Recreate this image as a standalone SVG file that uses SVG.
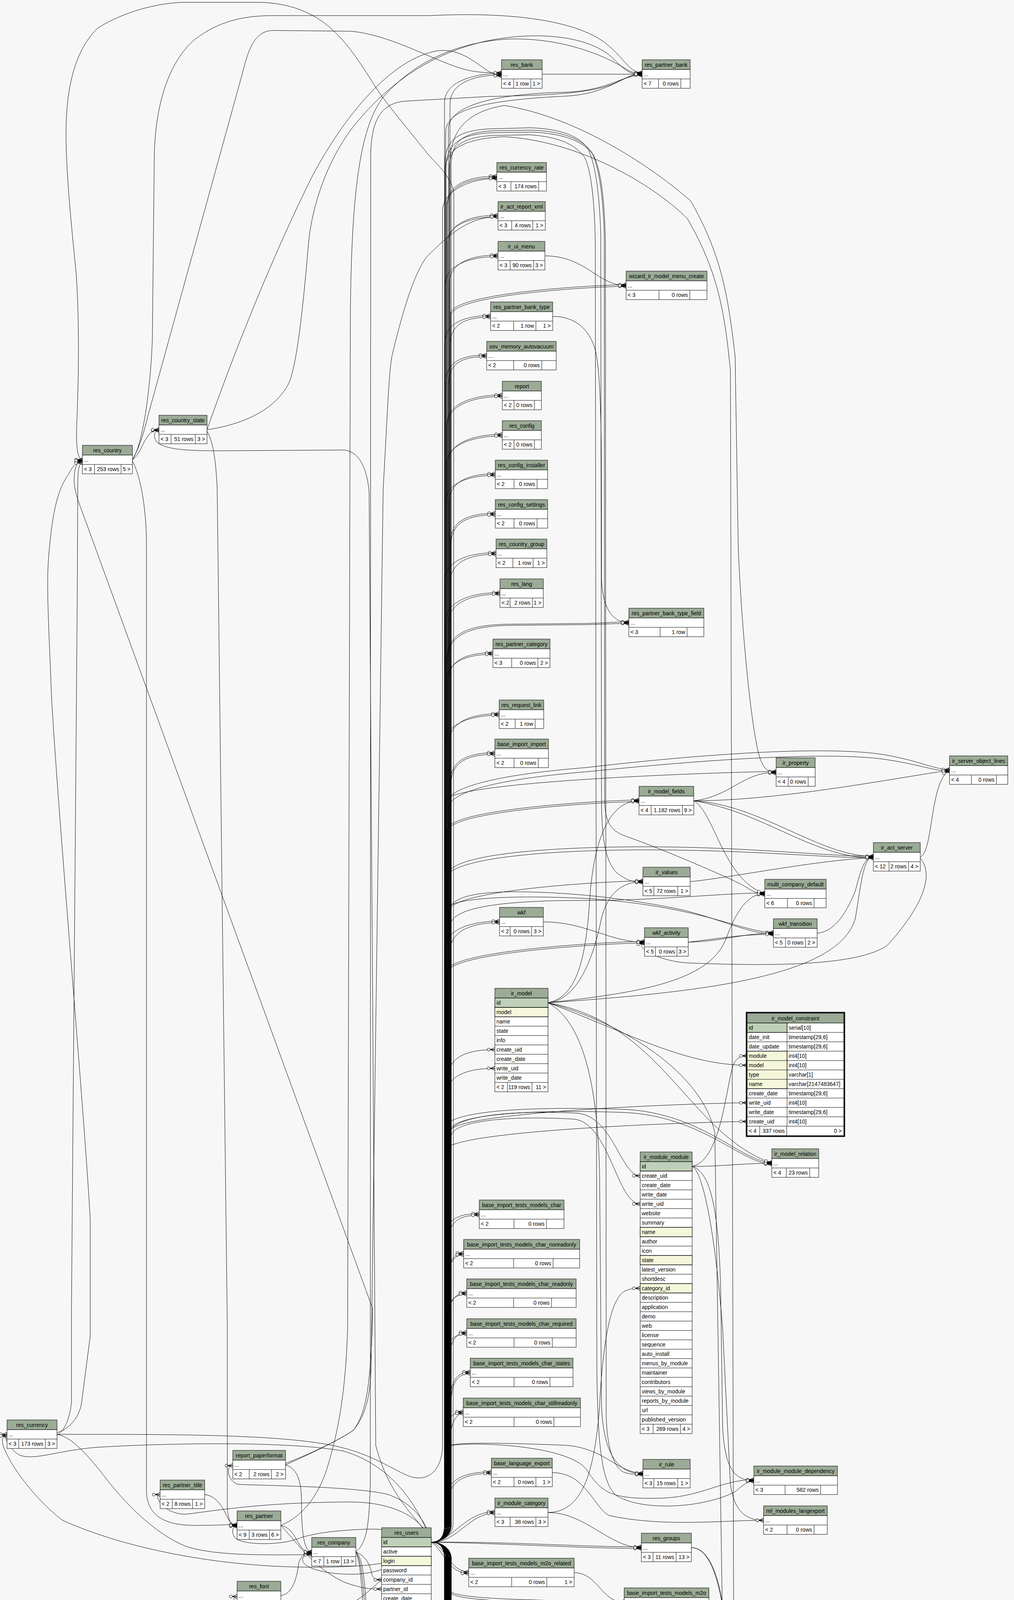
<svg xmlns="http://www.w3.org/2000/svg" width="2596" height="7891" viewBox="0 0 2596 7891">
<defs>
<style>
text{font-family:"Liberation Sans",Arial,Helvetica,sans-serif;font-size:14px;fill:#000}
.h{fill:#9bab96;stroke:#000;stroke-width:1}
.w{fill:#fff;stroke:#000;stroke-width:1}
.k{fill:#bed1b8;stroke:#000;stroke-width:1}
.y{fill:#f4f7da;stroke:#000;stroke-width:1}
.s{fill:none;stroke:#000;stroke-width:1}
.c{text-anchor:middle}
.r{text-anchor:end}
#connectors path{fill:none;stroke:#000;stroke-width:1}
</style>
<marker id="m" markerUnits="userSpaceOnUse" viewBox="-24 -7 25 14" refX="0" refY="0" markerWidth="25" markerHeight="14" orient="auto" overflow="visible">
<path d="M0,-5 L-12,0 L0,5 M-12,0 H0" fill="none" stroke="#000" stroke-width="1.3"/>
<circle cx="-16" cy="0" r="3.8" fill="#fff" stroke="#000" stroke-width="1"/>
</marker>
</defs>
<rect x="0" y="0" width="2596" height="7891" fill="#f7f7f7"/>

<g id="connectors" marker-end="url(#m)">
<path d="M1104 3948C1125 3948 1138 3935 1138 3905L1138 263C1138 208 1214 188 1284 188"/>
<path d="M1104 3948C1125 3948 1152 3935 1152 3905L1152 267C1152 212 1214 192 1284 192"/>
<path d="M1104 3948C1125 3948 1141 3935 1141 3905L1141 340C1141 290 1200 258 1450 246C1560 240 1600 188 1644 188"/>
<path d="M1104 3948C1125 3948 1148 3935 1148 3905L1148 330C1148 275 1250 240 1450 236C1555 232 1595 192 1644 192"/>
<path d="M1104 3948C1125 3948 1144 3935 1144 3905L1144 526C1144 471 1202 451 1272 451"/>
<path d="M1104 3948C1125 3948 1145 3935 1145 3905L1145 530C1145 475 1202 455 1272 455"/>
<path d="M1104 3948C1125 3948 1147 3935 1147 3905L1147 626C1147 571 1205 551 1275 551"/>
<path d="M1104 3948C1125 3948 1142 3935 1142 3905L1142 630C1142 575 1205 555 1275 555"/>
<path d="M1104 3948C1125 3948 1150 3935 1150 3905L1150 728C1150 673 1205 653 1275 653"/>
<path d="M1104 3948C1125 3948 1139 3935 1139 3905L1139 732C1139 677 1205 657 1275 657"/>
<path d="M1104 3948C1125 3948 1153 3935 1153 3905L1153 804C1153 749 1533 729 1603 729"/>
<path d="M1104 3948C1125 3948 1155 3935 1155 3905L1155 808C1155 753 1533 733 1603 733"/>
<path d="M1104 3948C1125 3948 1138 3935 1138 3905L1138 883C1138 828 1186 808 1256 808"/>
<path d="M1104 3948C1125 3948 1152 3935 1152 3905L1152 887C1152 832 1186 812 1256 812"/>
<path d="M1104 3948C1125 3948 1141 3935 1141 3905L1141 984C1141 929 1176 909 1246 909"/>
<path d="M1104 3948C1125 3948 1148 3935 1148 3905L1148 988C1148 933 1176 913 1246 913"/>
<path d="M1104 3948C1125 3948 1144 3935 1144 3905L1144 1086C1144 1031 1216 1011 1286 1011"/>
<path d="M1104 3948C1125 3948 1145 3935 1145 3905L1145 1090C1145 1035 1216 1015 1286 1015"/>
<path d="M1104 3948C1125 3948 1147 3935 1147 3905L1147 1187C1147 1132 1216 1112 1286 1112"/>
<path d="M1104 3948C1125 3948 1142 3935 1142 3905L1142 1191C1142 1136 1216 1116 1286 1116"/>
<path d="M1104 3948C1125 3948 1150 3935 1150 3905L1150 1288C1150 1233 1198 1213 1268 1213"/>
<path d="M1104 3948C1125 3948 1139 3935 1139 3905L1139 1292C1139 1237 1198 1217 1268 1217"/>
<path d="M1104 3948C1125 3948 1153 3935 1153 3905L1153 1389C1153 1334 1198 1314 1268 1314"/>
<path d="M1104 3948C1125 3948 1155 3935 1155 3905L1155 1393C1155 1338 1198 1318 1268 1318"/>
<path d="M1104 3948C1125 3948 1138 3935 1138 3905L1138 1490C1138 1435 1200 1415 1270 1415"/>
<path d="M1104 3948C1125 3948 1152 3935 1152 3905L1152 1494C1152 1439 1200 1419 1270 1419"/>
<path d="M1104 3948C1125 3948 1141 3935 1141 3905L1141 1592C1141 1537 1210 1517 1280 1517"/>
<path d="M1104 3948C1125 3948 1148 3935 1148 3905L1148 1596C1148 1541 1210 1521 1280 1521"/>
<path d="M1104 3948C1125 3948 1144 3935 1144 3905L1144 1690C1144 1620 1200 1600 1300 1598L1500 1596C1550 1595 1575 1592 1610 1592"/>
<path d="M1104 3948C1125 3948 1145 3935 1145 3905L1145 1694C1145 1625 1200 1604 1300 1601L1500 1599C1550 1598 1575 1596 1610 1596"/>
<path d="M1104 3948C1125 3948 1147 3935 1147 3905L1147 1746C1147 1691 1192 1671 1262 1671"/>
<path d="M1104 3948C1125 3948 1142 3935 1142 3905L1142 1750C1142 1695 1192 1675 1262 1675"/>
<path d="M1104 3948C1125 3948 1150 3935 1150 3905L1150 1902C1150 1847 1208 1827 1278 1827"/>
<path d="M1104 3948C1125 3948 1139 3935 1139 3905L1139 1906C1139 1851 1208 1831 1278 1831"/>
<path d="M1104 3948C1125 3948 1153 3935 1153 3905L1153 2002C1153 1947 1197 1927 1267 1927"/>
<path d="M1104 3948C1125 3948 1155 3935 1155 3905L1155 2006C1155 1951 1197 1931 1267 1931"/>
<path d="M1104 3948C1125 3948 1138 3935 1138 3905L1138 2052C1138 1997 1917 1975 1987 1975"/>
<path d="M1104 3948C1125 3948 1152 3935 1152 3905L1152 420C1152 330 1200 285 1291 270C1482 300 1673 431 1768 514C1844 647 1863 746 1882 912L1890 1400C1896 1555 1916 1810 1940 1920C1950 1965 1965 1979 1987 1979"/>
<path d="M1104 3948C1125 3948 1141 3935 1141 3905L1141 2060C1141 2020 1250 1985 1500 1965C1800 1930 2100 1910 2250 1930C2350 1945 2390 1970 2431 1970"/>
<path d="M1104 3948C1125 3948 1148 3935 1148 3905L1148 2070C1148 2030 1260 1995 1510 1975C1800 1945 2100 1925 2250 1942C2350 1955 2390 1974 2431 1974"/>
<path d="M1104 3948C1125 3948 1144 3935 1144 3905L1144 2125C1144 2070 1566 2048 1636 2048"/>
<path d="M1104 3948C1125 3948 1145 3935 1145 3905L1145 2129C1145 2074 1566 2052 1636 2052"/>
<path d="M1104 3948C1125 3948 1147 3935 1147 3905L1147 2240C1147 2200 1300 2172 1600 2168C1900 2165 2100 2192 2236 2192"/>
<path d="M1104 3948C1125 3948 1142 3935 1142 3905L1142 2250C1142 2210 1300 2180 1600 2176C1900 2173 2100 2196 2236 2196"/>
<path d="M1104 3948C1125 3948 1150 3935 1150 3905L1150 2332C1150 2277 1576 2255 1646 2255"/>
<path d="M1104 3948C1125 3948 1139 3935 1139 3905L1139 420C1139 360 1170 335 1250 330L1358 327C1430 330 1480 345 1505 380C1525 420 1535 500 1538 600L1540 2064C1542 2150 1550 2207 1580 2235C1605 2255 1625 2259 1646 2259"/>
<path d="M1104 3948C1125 3948 1153 3935 1153 3905L1153 2370C1153 2320 1300 2305 1500 2305C1700 2305 1850 2286 1958 2286"/>
<path d="M1104 3948C1125 3948 1155 3935 1155 3905L1155 425C1155 365 1180 340 1260 335L1360 333C1440 336 1490 355 1515 390C1535 430 1545 510 1547 610L1548 2054C1550 2100 1560 2125 1600 2140C1700 2175 1850 2240 1900 2265C1925 2280 1940 2290 1958 2290"/>
<path d="M1104 3948C1125 3948 1138 3935 1138 3905L1138 2433C1138 2378 1209 2358 1279 2358"/>
<path d="M1104 3948C1125 3948 1152 3935 1152 3905L1152 2437C1152 2382 1209 2362 1279 2362"/>
<path d="M1104 3948C1125 3948 1141 3935 1141 3905L1141 2330C1141 2300 1300 2290 1500 2300C1800 2320 1900 2387 1980 2387"/>
<path d="M1104 3948C1125 3948 1148 3935 1148 3905L1148 2340C1148 2300 1200 2285 1305 2283C1450 2282 1611 2300 1750 2330C1850 2355 1920 2391 1980 2391"/>
<path d="M1104 3948C1125 3948 1144 3935 1144 3905L1144 2487C1144 2432 1580 2410 1650 2410"/>
<path d="M1104 3948C1125 3948 1145 3935 1145 3905L1145 2491C1145 2436 1580 2414 1650 2414"/>
<path d="M1104 3948C1125 3948 1147 3935 1147 3905L1147 2760C1147 2705 1197 2687 1267 2687"/>
<path d="M1104 3948C1125 3948 1142 3935 1142 3905L1142 2808C1142 2753 1197 2735 1267 2735"/>
<path d="M1104 3948C1125 3948 1150 3935 1150 3905L1150 2898C1150 2843 1843 2823 1913 2823"/>
<path d="M1104 3948C1125 3948 1139 3935 1139 3905L1139 2946C1139 2891 1843 2871 1913 2871"/>
<path d="M1104 3948C1125 3948 1153 3935 1153 3905L1153 2900C1153 2860 1300 2840 1480 2850C1570 2860 1590 3010 1639 3010"/>
<path d="M1104 3948C1125 3948 1155 3935 1155 3905L1155 2910C1155 2870 1300 2855 1470 2865C1560 2875 1580 3082 1639 3082"/>
<path d="M1104 3948C1125 3948 1138 3935 1138 3905L1138 2890C1138 2850 1300 2830 1600 2840C1800 2850 1900 2976 1976 2976"/>
<path d="M1104 3948C1125 3948 1152 3935 1152 3905L1152 2895C1152 2858 1320 2838 1600 2848C1800 2858 1900 2980 1976 2980"/>
<path d="M1104 3948C1125 3948 1141 3935 1141 3905L1141 3182C1141 3127 1161 3107 1227 3107"/>
<path d="M1104 3948C1125 3948 1148 3935 1148 3905L1148 3186C1148 3131 1168 3111 1227 3111"/>
<path d="M1104 3948C1125 3948 1144 3935 1144 3905L1144 3283C1144 3228 1164 3208 1187 3208"/>
<path d="M1104 3948C1125 3948 1145 3935 1145 3905L1145 3287C1145 3232 1165 3212 1187 3212"/>
<path d="M1104 3948C1125 3948 1147 3935 1147 3905L1147 3384C1147 3329 1167 3309 1195 3309"/>
<path d="M1104 3948C1125 3948 1142 3935 1142 3905L1142 3388C1142 3333 1162 3313 1195 3313"/>
<path d="M1104 3948C1125 3948 1150 3935 1150 3905L1150 3486C1150 3431 1170 3411 1195 3411"/>
<path d="M1104 3948C1125 3948 1139 3935 1139 3905L1139 3490C1139 3435 1159 3415 1195 3415"/>
<path d="M1104 3948C1125 3948 1153 3935 1153 3905L1153 3587C1153 3532 1173 3512 1204 3512"/>
<path d="M1104 3948C1125 3948 1155 3935 1155 3905L1155 3591C1155 3536 1175 3516 1204 3516"/>
<path d="M1104 3948C1125 3948 1138 3935 1138 3905L1138 3689C1138 3634 1158 3614 1186 3614"/>
<path d="M1104 3948C1125 3948 1152 3935 1152 3905L1152 3693C1152 3638 1172 3618 1186 3618"/>
<path d="M1104 3948C1125 3948 1141 3935 1141 3905L1141 3843C1141 3788 1188 3768 1258 3768"/>
<path d="M1104 3948C1125 3948 1148 3935 1148 3905L1148 3847C1148 3792 1188 3772 1258 3772"/>
<path d="M1104 3948C1125 3948 1144 3935 1144 3905L1144 3705C1144 3692 1250 3692 1450 3700C1550 3708 1580 3771 1646 3771"/>
<path d="M1104 3948C1125 3948 1142 3935 1142 3905L1142 430C1142 370 1175 345 1255 340L1362 338C1445 342 1495 362 1520 398C1540 440 1548 520 1550 620L1552 3620C1553 3700 1570 3760 1600 3770C1620 3775 1630 3775 1646 3775"/>
<path d="M1104 3948C1125 3948 1145 3935 1145 3905L1145 3705C1145 3690 1440 3690 1500 3760C1540 3820 1560 3840 1700 3835C1800 3830 1850 3788 1930 3788"/>
<path d="M1104 3948C1125 3948 1150 3935 1150 3905L1150 435C1150 375 1180 352 1260 347L1355 345C1430 350 1475 370 1498 405C1515 445 1522 520 1524 620L1528 3500C1530 3700 1540 3800 1580 3830C1650 3870 1800 3860 1880 3820C1900 3805 1910 3792 1930 3792"/>
<path d="M1104 3948C1160 3945 1190 3870 1267 3870"/>
<path d="M1104 3948C1170 3950 1200 3874 1267 3874"/>
<path d="M1104 3948C1300 3946 1480 3960 1642 3960"/>
<path d="M1104 3948C1320 3952 1500 3964 1642 3964"/>
<path d="M1104 3948C1140 3955 1150 4024 1200 4024"/>
<path d="M1104 3948C1135 3965 1145 4028 1200 4028"/>
<path d="M1104 3948C1125 3948 1150 3960 1150 3990L1150 4070C1150 4090 1300 4096 1500 4098C1550 4099 1570 4100 1598 4100"/>
<path d="M1104 3948C1125 3948 1153 3960 1153 3990L1153 4075C1153 4095 1300 4102 1500 4103C1550 4104 1570 4104 1598 4104"/>
<path d="M1104 3948C1125 3948 1138 3960 1138 3990L1138 4104C1138 4159 1158 4179 1216 4179"/>
<path d="M1104 3948C1125 3948 1152 3960 1152 3990L1152 4108C1152 4163 1172 4183 1216 4183"/>
<path d="M1104 3948C1125 3948 1141 3960 1141 3990L1141 4206C1141 4261 1188 4281 1258 4281"/>
<path d="M1104 3948C1125 3948 1148 3960 1148 3990L1148 4210C1148 4265 1188 4285 1258 4285"/>
<path d="M1104 3948C1125 3948 1144 3960 1144 3990L1144 4307C1144 4362 1189 4382 1259 4382"/>
<path d="M1104 3948C1125 3948 1145 3960 1145 3990L1145 4311C1145 4366 1189 4386 1259 4386"/>
<path d="M1104 3948C1125 3948 1147 3960 1147 3990L1147 4408C1147 4463 1172 4483 1242 4483"/>
<path d="M1104 3948C1125 3948 1142 3960 1142 3990L1142 4412C1142 4467 1172 4487 1242 4487"/>
<path d="M1104 3948C1125 3948 1150 3960 1150 3990L1150 4510C1150 4565 1192 4585 1262 4585"/>
<path d="M1104 3948C1125 3948 1139 3960 1139 3990L1139 4514C1139 4569 1192 4589 1262 4589"/>
<path d="M1104 3948C1125 3948 1153 3960 1153 3990L1153 4611C1153 4666 1187 4686 1257 4686"/>
<path d="M1104 3948C1125 3948 1155 3960 1155 3990L1155 4615C1155 4670 1187 4690 1257 4690"/>
<path d="M1104 3948C1125 3948 1138 3960 1138 3990L1138 4712C1138 4767 1178 4787 1248 4787"/>
<path d="M1104 3948C1125 3948 1152 3960 1152 3990L1152 4716C1152 4771 1178 4791 1248 4791"/>
<path d="M1104 3948C1125 3948 1141 3960 1141 3990L1141 4813C1141 4868 1218 4888 1288 4888"/>
<path d="M1104 3948C1125 3948 1148 3960 1148 3990L1148 4817C1148 4872 1218 4892 1288 4892"/>
<path d="M1104 3948C1125 3948 1144 3960 1144 3990L1144 4915C1144 4970 1159 4990 1170 4990"/>
<path d="M1104 3948C1125 3948 1145 3960 1145 3990L1145 4919C1145 4974 1160 4994 1170 4994"/>
<path d="M1104 3948C1125 3948 1147 3960 1147 3990L1147 4880C1147 4925 1450 4935 1700 4940C1850 4943 1900 4988 1978 4988"/>
<path d="M1104 3948C1125 3948 1139 3935 1139 3905L1139 440C1139 380 1190 355 1290 350C1480 360 1670 470 1760 560C1835 690 1855 790 1870 950L1880 4850C1885 4940 1920 4992 1978 4992"/>
<path d="M1104 3948C1125 3948 1150 3960 1150 3990L1150 5020C1150 5055 1250 5066 1567 5066"/>
<path d="M1104 3948C1125 3948 1153 3960 1153 3990L1153 5024C1153 5059 1260 5070 1567 5070"/>
<path d="M1104 3948C1125 3948 1138 3960 1138 3990L1138 5069C1138 5124 1158 5144 1227 5144"/>
<path d="M1104 3948C1125 3948 1152 3960 1152 3990L1152 5073C1152 5128 1172 5148 1227 5148"/>
<path d="M1104 3948C1125 3948 1141 3960 1141 3990L1141 5180C1141 5212 1250 5221 1579 5221"/>
<path d="M1104 3948C1125 3948 1148 3960 1148 3990L1148 5184C1148 5216 1260 5225 1579 5225"/>
<path d="M1104 3948C1125 3948 1144 3960 1144 3990L1144 5224C1144 5279 1177 5299 1247 5299"/>
<path d="M1104 3948C1125 3948 1145 3960 1145 3990L1145 5228C1145 5283 1177 5303 1247 5303"/>
<path d="M1104 3948C1125 3948 1147 3960 1147 3990L1147 5325C1147 5380 1202 5400 1272 5400"/>
<path d="M1104 3948C1125 3948 1142 3960 1142 3990L1142 5329C1142 5384 1202 5404 1272 5404"/>
<path d="M1104 3948C1125 3948 1155 3960 1155 3990L1155 5335C1155 5390 1202 5406 1272 5406"/>
<path d="M1104 3948C1125 3948 1150 3960 1150 3990L1150 5427C1150 5482 1216 5502 1286 5502"/>
<path d="M1104 3948C1125 3948 1139 3960 1139 3990L1139 5431C1139 5486 1216 5506 1286 5506"/>
<path d="M1104 3948C1125 3948 1153 3960 1153 3990L1153 5528C1153 5583 1216 5603 1286 5603"/>
<path d="M1104 3948C1125 3948 1155 3960 1155 3990L1155 5532C1155 5587 1216 5607 1286 5607"/>
<path d="M1104 3948C1125 3948 1138 3960 1138 3990L1138 5600C1138 5650 1250 5670 1624 5670"/>
<path d="M1104 3948C1125 3948 1152 3960 1152 3990L1152 5605C1152 5655 1260 5674 1624 5674"/>
<path d="M1104 3948C1125 3948 1146 3960 1146 3990L1146 5610C1146 5660 1270 5676 1624 5676"/>
<path d="M1104 3948C1125 3948 1141 3960 1141 3990L1141 5700C1141 5750 1250 5771 1643 5771"/>
<path d="M1104 3948C1125 3948 1148 3960 1148 3990L1148 5705C1148 5755 1260 5775 1643 5775"/>
<path d="M1104 3948C1125 3948 1143 3960 1143 3990L1143 5712C1143 5760 1270 5777 1643 5777"/>
<path d="M1104 3948C1125 3948 1144 3960 1144 3990L1144 5767C1144 5822 1208 5842 1278 5842"/>
<path d="M1104 3948C1125 3948 1145 3960 1145 3990L1145 5771C1145 5826 1208 5846 1278 5846"/>
<path d="M1104 3948C1125 3948 1147 3960 1147 3990L1147 5845C1147 5895 1260 5910 1600 5910"/>
<path d="M1104 3948C1125 3948 1142 3960 1142 3990L1142 5850C1142 5900 1270 5914 1600 5914"/>
<path d="M1104 3948C1125 3948 1151 3960 1151 3990L1151 5855C1151 5903 1280 5916 1600 5916"/>
<path d="M1104 3948C1125 3948 1150 3960 1150 3990L1150 6380C1150 6440 1300 6455 1489 6429C1611 6400 1760 6200 1820 6050C1850 5950 1860 5850 1880 5800C1900 5772 1930 5767 1962 5767"/>
<path d="M1104 3948C1125 3948 1150 3960 1150 3990L1150 5989C1150 6044 1212 6064 1282 6064"/>
<path d="M1104 3948C1125 3948 1139 3960 1139 3990L1139 5993C1139 6048 1212 6068 1282 6068"/>
<path d="M1104 3948C1125 3948 1153 3960 1153 3990L1153 6091C1153 6146 1212 6166 1282 6166"/>
<path d="M1104 3948C1125 3948 1155 3960 1155 3990L1155 6095C1155 6150 1212 6170 1282 6170"/>
<path d="M1104 3948C1125 3948 1138 3960 1138 3990L1138 6192C1138 6247 1196 6267 1266 6267"/>
<path d="M1104 3948C1125 3948 1152 3960 1152 3990L1152 6196C1152 6251 1196 6271 1266 6271"/>
<path d="M1104 3948C1125 3948 1141 3960 1141 3990L1141 6293C1141 6348 1218 6368 1288 6368"/>
<path d="M1104 3948C1125 3948 1148 3960 1148 3990L1148 6297C1148 6352 1218 6372 1288 6372"/>
<path d="M1104 3948C1125 3948 1144 3960 1144 3990L1144 6300C1144 6356 1218 6374 1288 6374"/>
<path d="M1104 3948C1125 3948 1144 3960 1144 3990L1144 6484C1144 6539 1202 6559 1272 6559"/>
<path d="M1104 3948C1125 3948 1145 3960 1145 3990L1145 6488C1145 6543 1202 6563 1272 6563"/>
<path d="M1104 3948C1125 3948 1147 3960 1147 3990L1147 6585C1147 6640 1216 6660 1286 6660"/>
<path d="M1104 3948C1125 3948 1142 3960 1142 3990L1142 6589C1142 6644 1216 6664 1286 6664"/>
<path d="M1104 3948C1125 3948 1152 3960 1152 3990L1152 6593C1152 6648 1216 6666 1286 6666"/>
<path d="M1104 3948C1125 3948 1150 3960 1150 3990L1150 6689C1150 6744 1216 6764 1286 6764"/>
<path d="M1104 3948C1125 3948 1153 3960 1153 3990L1153 6787C1153 6842 1216 6862 1286 6862"/>
<path d="M1104 3948C1125 3948 1155 3960 1155 3990L1155 6791C1155 6846 1216 6866 1286 6866"/>
<path d="M1104 3948C1125 3948 1138 3960 1138 3990L1138 6889C1138 6944 1204 6964 1274 6964"/>
<path d="M1104 3948C1125 3948 1152 3960 1152 3990L1152 6893C1152 6948 1204 6968 1274 6968"/>
<path d="M1104 3948C1125 3948 1141 3960 1141 3990L1141 6990C1141 7045 1196 7065 1266 7065"/>
<path d="M1104 3948C1125 3948 1148 3960 1148 3990L1148 6994C1148 7049 1196 7069 1266 7069"/>
<path d="M1104 3948C1125 3948 1144 3960 1144 3990L1144 7080C1144 7125 1300 7142 1642 7142"/>
<path d="M1104 3948C1125 3948 1145 3960 1145 3990L1145 7085C1145 7130 1310 7146 1642 7146"/>
<path d="M1104 3948C1125 3948 1147 3960 1147 3990L1147 6420C1147 6470 1300 6480 1420 6485C1560 6520 1650 6700 1760 6900C1850 7060 1900 7142 1976 7142"/>
<path d="M1104 3948C1125 3948 1142 3960 1142 3990L1142 6425C1142 6476 1300 6488 1416 6493C1552 6528 1642 6708 1752 6908C1842 7068 1895 7146 1976 7146"/>
<path d="M1104 3948C1125 3948 1150 3960 1150 3990L1150 7145C1150 7200 1209 7220 1279 7220"/>
<path d="M1104 3948C1125 3948 1139 3960 1139 3990L1139 7149C1139 7204 1209 7224 1279 7224"/>
<path d="M1104 3948C1125 3948 1153 3960 1153 3990L1153 7220C1153 7262 1300 7273 1656 7273"/>
<path d="M1104 3948C1125 3948 1155 3960 1155 3990L1155 7224C1155 7266 1310 7277 1656 7277"/>
<path d="M1104 3948C1125 3948 1138 3960 1138 3990L1138 7290C1138 7330 1400 7340 1700 7330C2000 7320 2100 7288 2227 7288"/>
<path d="M1104 3948C1125 3948 1152 3960 1152 3990L1152 7295C1152 7337 1410 7347 1700 7337C2000 7327 2100 7292 2227 7292"/>
<path d="M1104 3948C1125 3948 1141 3960 1141 3990L1141 7380C1141 7420 1400 7430 1700 7425C1850 7420 1900 7408 1972 7408"/>
<path d="M1104 3948C1125 3948 1148 3960 1148 3990L1148 7385C1148 7428 1410 7437 1700 7432C1850 7427 1900 7412 1972 7412"/>
<path d="M1104 3948C1125 3948 1144 3960 1144 3990L1144 7420C1144 7475 1216 7495 1286 7495"/>
<path d="M1104 3948C1125 3948 1145 3960 1145 3990L1145 7424C1145 7479 1216 7499 1286 7499"/>
<path d="M1104 3948C1125 3948 1150 3960 1150 3990L1150 7430C1150 7482 1216 7500 1286 7500"/>
<path d="M1104 3948C1125 3948 1147 3960 1147 3990L1147 7521C1147 7576 1216 7596 1286 7596"/>
<path d="M1104 3948C1125 3948 1142 3960 1142 3990L1142 7525C1142 7580 1216 7600 1286 7600"/>
<path d="M1104 3948C1125 3948 1153 3960 1153 3990L1153 7623C1153 7678 1216 7698 1286 7698"/>
<path d="M1104 3948C1125 3948 1139 3960 1139 3990L1139 7627C1139 7682 1216 7702 1286 7702"/>
<path d="M1104 3948C1125 3948 1155 3960 1155 3990L1155 7725C1155 7780 1184 7800 1254 7800"/>
<path d="M1104 3948C1070 3850 1000 3750 880 3715C750 3690 450 3693 250 3705C150 3712 90 3740 50 3725C25 3712 5 3672 18 3672"/>
<path d="M1104 3948C1050 4000 960 4012 800 4012C560 4012 320 3964 160 3892C80 3830 20 3740 8 3700C4 3685 6 3676 18 3676"/>
<path d="M1104 3948C1090 3880 1040 3840 990 3825C900 3805 700 3804 610 3800C585 3795 575 3752 596 3752"/>
<path d="M1104 3948C1080 3880 1000 3846 900 3845C700 3846 600 3860 480 3876C420 3880 390 3826 410 3826"/>
<path d="M1104 3948C1070 3925 1000 3912 930 3915C860 3918 800 3925 760 3940C720 3955 620 3958 600 3935C592 3920 595 3907 607 3907"/>
<path d="M1104 3948C1060 3975 1000 4030 900 4030C820 4030 770 4010 775 3990C778 3980 785 3977 798 3977"/>
<path d="M1104 3948C1000 4000 960 4080 880 4115C800 4140 660 4150 610 4125C595 4110 595 4087 607 4087"/>
<path d="M1104 3948C1090 3900 1000 3850 962 3700L945 1260C940 1200 920 1155 880 1152L560 1154C470 1154 420 1150 400 1130C392 1115 395 1102 407 1102"/>
<path d="M1104 3948C1125 3948 1160 3935 1160 3900L1162 500C1162 470 1140 440 1100 400C1060 350 1010 290 972 239C940 190 900 120 850 75C800 30 740 8 666 6L465 6C380 10 300 40 250 72C200 120 175 200 170 300C165 400 180 550 195 700C205 850 200 1000 196 1100C195 1150 200 1177 211 1177"/>
<path d="M146 3668C185 3655 205 3620 209 3590L231 3420L231 3125C220 2900 150 2100 132 1786C125 1600 118 1500 125 1420C135 1300 150 1250 175 1215C185 1195 195 1181 211 1181"/>
<path d="M146 3674C170 3660 180 3620 183 3590L183 3350L198 1500L199 1250C199 1215 200 1185 211 1185"/>
<path d="M731 3746C800 3720 880 3680 905 3661C935 3620 950 3560 954 3350L213 1317C205 1295 192 1265 190 1235C189 1205 195 1179 211 1179"/>
<path d="M146 3672C400 3672 700 3670 850 3700C950 3720 1000 3760 1050 3780C1100 3795 1132 3760 1133 3700L1133 540C1133 490 1200 457 1272 457"/>
<path d="M146 3672C180 3677 220 3720 260 3770C320 3850 400 3930 480 3960C560 3985 700 3980 798 3980"/>
<path d="M339 1180C360 1220 375 1300 375 1400L375 3820C378 3880 420 3905 500 3905C550 3905 580 3903 607 3903"/>
<path d="M530 1104C545 1130 552 1170 556 1250L582 3400L582 3860C584 3890 590 3905 607 3905"/>
<path d="M339 1177C365 1160 370 1100 407 1100"/>
<path d="M339 1177C365 1140 385 1000 390 870L395 400C398 250 440 150 500 100C560 55 620 40 700 40L1100 40C1300 30 1470 50 1550 110C1600 150 1610 186 1644 186"/>
<path d="M339 1177C360 1140 370 1100 380 1060L620 190C635 130 650 78 700 78L900 80C1000 90 1100 150 1180 175C1220 187 1250 186 1284 186"/>
<path d="M530 1100C600 1090 700 1060 740 980C760 930 775 800 790 620C800 520 840 410 900 330C970 240 1080 140 1250 104C1400 75 1520 100 1570 150C1600 180 1615 192 1644 192"/>
<path d="M530 1100C600 900 700 650 800 450C880 300 1000 150 1120 130C1200 120 1240 194 1284 194"/>
<path d="M731 3750C800 3720 880 3680 905 3661C930 3630 948 3589 950 3500L981 1250C990 1100 995 950 1004 909C1030 800 1060 700 1092 658C1150 600 1200 555 1275 555"/>
<path d="M719 3905C780 3880 820 3820 840 3750C870 3650 885 3550 890 3400L897 800C900 500 920 330 980 250C1050 170 1150 110 1300 100C1450 95 1560 150 1600 175C1620 188 1630 188 1644 188"/>
<path d="M911 3973C940 3950 945 3900 948 3800L949 400C950 300 980 265 1036 259L1250 247C1400 244 1520 240 1580 210C1610 195 1625 190 1644 190"/>
<path d="M731 3750C765 3760 772 3800 772 3850C772 3930 780 3973 798 3973"/>
<path d="M719 4085C750 4080 760 4040 765 4000C770 3985 780 3975 798 3975"/>
<path d="M524 3826C560 3830 575 3870 585 3890C592 3900 597 3905 607 3905"/>
<path d="M719 3905C750 3910 760 3950 775 3965C785 3973 790 3973 798 3973"/>
<path d="M911 3973C940 3985 948 4010 952 4030C956 4044 965 4044 977 4044"/>
<path d="M719 3905C770 3960 800 4010 880 4050C930 4068 950 4068 977 4068"/>
<path d="M911 3973C935 3990 945 4100 948 4600L990 7200C1000 7380 1060 7480 1130 7550C1180 7585 1230 7598 1286 7598"/>
<path d="M911 3973C930 4000 940 4100 945 4600L960 7400C970 7500 1050 7620 1152 7660C1200 7690 1240 7700 1286 7700"/>
<path d="M911 3973C925 4000 935 4100 940 4600L950 7450C955 7600 1050 7700 1150 7760C1200 7790 1225 7802 1254 7802"/>
<path d="M1388 190L1644 190"/>
<path d="M1395 655C1500 655 1530 731 1603 731"/>
<path d="M1415 810C1470 810 1510 840 1525 900C1538 960 1540 1100 1540 1300L1540 1480C1542 1560 1570 1594 1610 1594"/>
<path d="M1403 2567C1480 2550 1500 2450 1510 2300C1520 2150 1560 2050 1636 2050"/>
<path d="M1403 2567C1800 2540 2150 2500 2190 2350C2205 2260 2210 2194 2236 2194"/>
<path d="M1403 2567C1650 2540 1820 2510 1860 2400C1890 2320 1920 2288 1958 2288"/>
<path d="M1403 2567C1600 2640 1750 2727 1913 2727"/>
<path d="M1403 2567C1700 2620 1760 2900 1976 2978"/>
<path d="M1403 2567C1500 2620 1530 2800 1535 3000L1540 3600C1545 3720 1580 3773 1646 3773"/>
<path d="M1403 2567C1600 2620 1800 2750 1830 2900L1860 4800C1870 4950 1920 4990 1978 4990"/>
<path d="M1403 2567C1480 2560 1520 2450 1540 2350C1555 2290 1590 2257 1646 2257"/>
<path d="M1776 2050C1870 2040 1900 1977 1987 1977"/>
<path d="M1776 2050C2000 2050 2300 1990 2431 1972"/>
<path d="M1776 2050C1950 2060 2100 2194 2236 2192"/>
<path d="M1776 2050C1960 2080 2080 2196 2236 2196"/>
<path d="M1776 2050C1830 2080 1850 2250 1958 2288"/>
<path d="M2356 2194C2390 2180 2380 2000 2431 1972"/>
<path d="M2356 2197C2385 2230 2380 2300 2272 2420C2200 2470 2000 2475 1760 2465C1680 2460 1620 2420 1650 2414"/>
<path d="M1767 2257C1865 2248 2100 2200 2236 2196"/>
<path d="M1391 2360C1500 2360 1560 2412 1650 2412"/>
<path d="M1762 2412C1850 2410 1900 2389 1980 2389"/>
<path d="M1762 2412C1860 2400 1900 2392 1980 2392"/>
<path d="M2092 2389C2140 2385 2170 2330 2190 2280C2205 2220 2215 2194 2236 2194"/>
<path d="M1772 2986C1850 2970 1860 2760 1880 2720C1890 2705 1900 2703 1913 2703"/>
<path d="M1772 2986C1850 2986 1900 2978 1976 2978"/>
<path d="M1772 2986C1820 3000 1840 3100 1845 3300L1850 3650C1855 3760 1880 3790 1930 3790"/>
<path d="M1772 2986C1800 3000 1830 3150 1850 3400L1870 3800C1880 3870 1910 3892 1955 3892"/>
<path d="M1403 3872C1480 3870 1520 3800 1535 3600C1545 3400 1570 3320 1600 3305C1615 3298 1625 3298 1639 3298"/>
<path d="M1403 3872C1500 3872 1560 3962 1642 3962"/>
<path d="M1414 3770C1500 3770 1520 3860 1560 3880C1700 3910 1850 3892 1955 3892"/>
<path d="M1470 4026C1530 4026 1540 4102 1598 4102"/>
<path d="M1500 4992C1530 4992 1535 5068 1567 5068"/>
<path d="M1444 5146C1510 5146 1520 5223 1579 5223"/>
<path d="M1425 5301C1500 5301 1530 5400 1530 5500C1530 5620 1560 5672 1624 5672"/>
<path d="M1394 5844C1500 5844 1560 5773 1643 5773"/>
<path d="M1394 5844C1480 5844 1520 5912 1600 5912"/>
<path d="M1406 7067C1500 7067 1550 7144 1642 7144"/>
<path d="M1770 7144C1850 7135 1900 7140 1976 7142"/>
<path d="M1770 7144C1850 7155 1900 7148 1976 7146"/>
<path d="M1770 7144C1900 7170 2000 7270 2227 7290"/>
<path d="M1770 7144C1830 7170 1860 7300 1880 7360C1900 7400 1930 7410 1972 7410"/>
<path d="M2096 7144C2150 7150 2160 7270 2227 7290"/>
<path d="M1391 7222C1500 7222 1560 7275 1656 7275"/>
<path d="M1770 3962C1830 3962 1860 4100 1865 4300L1870 5600C1875 5720 1910 5765 1962 5765"/>
<path d="M1770 3962C1820 3962 1850 4050 1860 4200L1870 4800C1880 4920 1920 4990 1978 4990"/>
</g>

<g id="res_bank"><rect class="h" x="1284" y="153" width="104" height="25"/><rect class="w" x="1284" y="178" width="104" height="48"/><path class="s" d="M1284 202H1388M1315 202V226M1359 202V226"/><text class="c" x="1336" y="171">res_bank</text><text x="1288" y="195">...</text><text x="1288" y="219">&lt; 4</text><text class="r" x="1354" y="219">1 row</text><text class="r" x="1383" y="219">1 &gt;</text></g>
<g id="res_partner_bank"><rect class="h" x="1644" y="153" width="123" height="25"/><rect class="w" x="1644" y="178" width="123" height="48"/><path class="s" d="M1644 202H1767M1686 202V226M1743 202V226"/><text class="c" x="1705.5" y="171">res_partner_bank</text><text x="1648" y="195">...</text><text x="1648" y="219">&lt; 7</text><text class="r" x="1738" y="219">0 rows</text></g>
<g id="res_currency_rate"><rect class="h" x="1272" y="416" width="127" height="25"/><rect class="w" x="1272" y="441" width="127" height="48"/><path class="s" d="M1272 465H1399M1308 465V489M1379 465V489"/><text class="c" x="1335.5" y="434">res_currency_rate</text><text x="1276" y="458">...</text><text x="1276" y="482">&lt; 3</text><text class="r" x="1374" y="482">174 rows</text></g>
<g id="ir_act_report_xml"><rect class="h" x="1275" y="516" width="121" height="25"/><rect class="w" x="1275" y="541" width="121" height="48"/><path class="s" d="M1275 565H1396M1310 565V589M1364 565V589"/><text class="c" x="1335.5" y="534">ir_act_report_xml</text><text x="1279" y="558">...</text><text x="1279" y="582">&lt; 3</text><text class="r" x="1359" y="582">4 rows</text><text class="r" x="1391" y="582">1 &gt;</text></g>
<g id="ir_ui_menu"><rect class="h" x="1275" y="618" width="120" height="25"/><rect class="w" x="1275" y="643" width="120" height="48"/><path class="s" d="M1275 667H1395M1306 667V691M1366 667V691"/><text class="c" x="1335" y="636">ir_ui_menu</text><text x="1279" y="660">...</text><text x="1279" y="684">&lt; 3</text><text class="r" x="1361" y="684">90 rows</text><text class="r" x="1390" y="684">3 &gt;</text></g>
<g id="wizard_ir_model_menu_create"><rect class="h" x="1603" y="694" width="207" height="25"/><rect class="w" x="1603" y="719" width="207" height="48"/><path class="s" d="M1603 743H1810M1687 743V767M1766 743V767"/><text class="c" x="1706.5" y="712">wizard_ir_model_menu_create</text><text x="1607" y="736">...</text><text x="1607" y="760">&lt; 3</text><text class="r" x="1761" y="760">0 rows</text></g>
<g id="res_partner_bank_type"><rect class="h" x="1256" y="773" width="159" height="25"/><rect class="w" x="1256" y="798" width="159" height="48"/><path class="s" d="M1256 822H1415M1315 822V846M1372 822V846"/><text class="c" x="1335.5" y="791">res_partner_bank_type</text><text x="1260" y="815">...</text><text x="1260" y="839">&lt; 2</text><text class="r" x="1367" y="839">1 row</text><text class="r" x="1410" y="839">1 &gt;</text></g>
<g id="osv_memory_autovacuum"><rect class="h" x="1246" y="874" width="178" height="25"/><rect class="w" x="1246" y="899" width="178" height="48"/><path class="s" d="M1246 923H1424M1315 923V947M1387 923V947"/><text class="c" x="1335" y="892">osv_memory_autovacuum</text><text x="1250" y="916">...</text><text x="1250" y="940">&lt; 2</text><text class="r" x="1382" y="940">0 rows</text></g>
<g id="report"><rect class="h" x="1286" y="976" width="100" height="25"/><rect class="w" x="1286" y="1001" width="100" height="48"/><path class="s" d="M1286 1025H1386M1316 1025V1049M1368 1025V1049"/><text class="c" x="1336" y="994">report</text><text x="1290" y="1018">...</text><text x="1290" y="1042">&lt; 2</text><text class="r" x="1363" y="1042">0 rows</text></g>
<g id="res_config"><rect class="h" x="1286" y="1077" width="100" height="25"/><rect class="w" x="1286" y="1102" width="100" height="48"/><path class="s" d="M1286 1126H1386M1316 1126V1150M1368 1126V1150"/><text class="c" x="1336" y="1095">res_config</text><text x="1290" y="1119">...</text><text x="1290" y="1143">&lt; 2</text><text class="r" x="1363" y="1143">0 rows</text></g>
<g id="res_config_installer"><rect class="h" x="1268" y="1178" width="134" height="25"/><rect class="w" x="1268" y="1203" width="134" height="48"/><path class="s" d="M1268 1227H1402M1316 1227V1251M1375 1227V1251"/><text class="c" x="1335" y="1196">res_config_installer</text><text x="1272" y="1220">...</text><text x="1272" y="1244">&lt; 2</text><text class="r" x="1370" y="1244">0 rows</text></g>
<g id="res_config_settings"><rect class="h" x="1268" y="1279" width="134" height="25"/><rect class="w" x="1268" y="1304" width="134" height="48"/><path class="s" d="M1268 1328H1402M1316 1328V1352M1375 1328V1352"/><text class="c" x="1335" y="1297">res_config_settings</text><text x="1272" y="1321">...</text><text x="1272" y="1345">&lt; 2</text><text class="r" x="1370" y="1345">0 rows</text></g>
<g id="res_country_group"><rect class="h" x="1270" y="1380" width="130" height="25"/><rect class="w" x="1270" y="1405" width="130" height="48"/><path class="s" d="M1270 1429H1400M1313 1429V1453M1365 1429V1453"/><text class="c" x="1335" y="1398">res_country_group</text><text x="1274" y="1422">...</text><text x="1274" y="1446">&lt; 2</text><text class="r" x="1360" y="1446">1 row</text><text class="r" x="1395" y="1446">1 &gt;</text></g>
<g id="res_lang"><rect class="h" x="1280" y="1482" width="111" height="25"/><rect class="w" x="1280" y="1507" width="111" height="48"/><path class="s" d="M1280 1531H1391M1306 1531V1555M1363 1531V1555"/><text class="c" x="1335.5" y="1500">res_lang</text><text x="1284" y="1524">...</text><text x="1284" y="1548">&lt; 2</text><text class="r" x="1358" y="1548">2 rows</text><text class="r" x="1386" y="1548">1 &gt;</text></g>
<g id="res_partner_bank_type_field"><rect class="h" x="1610" y="1557" width="192" height="25"/><rect class="w" x="1610" y="1582" width="192" height="48"/><path class="s" d="M1610 1606H1802M1690 1606V1630M1759 1606V1630"/><text class="c" x="1706" y="1575">res_partner_bank_type_field</text><text x="1614" y="1599">...</text><text x="1614" y="1623">&lt; 3</text><text class="r" x="1754" y="1623">1 row</text></g>
<g id="res_partner_category"><rect class="h" x="1262" y="1636" width="146" height="25"/><rect class="w" x="1262" y="1661" width="146" height="48"/><path class="s" d="M1262 1685H1408M1310 1685V1709M1377 1685V1709"/><text class="c" x="1335" y="1654">res_partner_category</text><text x="1266" y="1678">...</text><text x="1266" y="1702">&lt; 3</text><text class="r" x="1372" y="1702">0 rows</text><text class="r" x="1403" y="1702">2 &gt;</text></g>
<g id="res_request_link"><rect class="h" x="1278" y="1792" width="114" height="25"/><rect class="w" x="1278" y="1817" width="114" height="48"/><path class="s" d="M1278 1841H1392M1319 1841V1865M1370 1841V1865"/><text class="c" x="1335" y="1810">res_request_link</text><text x="1282" y="1834">...</text><text x="1282" y="1858">&lt; 2</text><text class="r" x="1365" y="1858">1 row</text></g>
<g id="base_import_import"><rect class="h" x="1267" y="1892" width="137" height="25"/><rect class="w" x="1267" y="1917" width="137" height="48"/><path class="s" d="M1267 1941H1404M1316 1941V1965M1378 1941V1965"/><text class="c" x="1335.5" y="1910">base_import_import</text><text x="1271" y="1934">...</text><text x="1271" y="1958">&lt; 2</text><text class="r" x="1373" y="1958">0 rows</text></g>
<g id="ir_property"><rect class="h" x="1987" y="1940" width="100" height="25"/><rect class="w" x="1987" y="1965" width="100" height="48"/><path class="s" d="M1987 1989H2087M2018 1989V2013M2069 1989V2013"/><text class="c" x="2037" y="1958">ir_property</text><text x="1991" y="1982">...</text><text x="1991" y="2006">&lt; 4</text><text class="r" x="2064" y="2006">0 rows</text></g>
<g id="ir_server_object_lines"><rect class="h" x="2431" y="1935" width="149" height="25"/><rect class="w" x="2431" y="1960" width="149" height="48"/><path class="s" d="M2431 1984H2580M2487 1984V2008M2551 1984V2008"/><text class="c" x="2505.5" y="1953">ir_server_object_lines</text><text x="2435" y="1977">...</text><text x="2435" y="2001">&lt; 4</text><text class="r" x="2546" y="2001">0 rows</text></g>
<g id="ir_model_fields"><rect class="h" x="1636" y="2013" width="140" height="25"/><rect class="w" x="1636" y="2038" width="140" height="48"/><path class="s" d="M1636 2062H1776M1667 2062V2086M1747 2062V2086"/><text class="c" x="1706" y="2031">ir_model_fields</text><text x="1640" y="2055">...</text><text x="1640" y="2079">&lt; 4</text><text class="r" x="1742" y="2079">1.182 rows</text><text class="r" x="1771" y="2079">9 &gt;</text></g>
<g id="ir_act_server"><rect class="h" x="2236" y="2157" width="120" height="25"/><rect class="w" x="2236" y="2182" width="120" height="48"/><path class="s" d="M2236 2206H2356M2276 2206V2230M2326 2206V2230"/><text class="c" x="2296" y="2175">ir_act_server</text><text x="2240" y="2199">...</text><text x="2240" y="2223">&lt; 12</text><text class="r" x="2321" y="2223">2 rows</text><text class="r" x="2351" y="2223">4 &gt;</text></g>
<g id="ir_values"><rect class="h" x="1646" y="2220" width="121" height="25"/><rect class="w" x="1646" y="2245" width="121" height="48"/><path class="s" d="M1646 2269H1767M1674 2269V2293M1735 2269V2293"/><text class="c" x="1706.5" y="2238">ir_values</text><text x="1650" y="2262">...</text><text x="1650" y="2286">&lt; 5</text><text class="r" x="1730" y="2286">72 rows</text><text class="r" x="1762" y="2286">1 &gt;</text></g>
<g id="multi_company_default"><rect class="h" x="1958" y="2251" width="157" height="25"/><rect class="w" x="1958" y="2276" width="157" height="48"/><path class="s" d="M1958 2300H2115M2016 2300V2324M2084 2300V2324"/><text class="c" x="2036.5" y="2269">multi_company_default</text><text x="1962" y="2293">...</text><text x="1962" y="2317">&lt; 6</text><text class="r" x="2079" y="2317">0 rows</text></g>
<g id="wkf"><rect class="h" x="1279" y="2323" width="112" height="25"/><rect class="w" x="1279" y="2348" width="112" height="48"/><path class="s" d="M1279 2372H1391M1306 2372V2396M1361 2372V2396"/><text class="c" x="1335" y="2341">wkf</text><text x="1283" y="2365">...</text><text x="1283" y="2389">&lt; 2</text><text class="r" x="1356" y="2389">0 rows</text><text class="r" x="1386" y="2389">3 &gt;</text></g>
<g id="wkf_transition"><rect class="h" x="1980" y="2352" width="112" height="25"/><rect class="w" x="1980" y="2377" width="112" height="48"/><path class="s" d="M1980 2401H2092M2011 2401V2425M2062 2401V2425"/><text class="c" x="2036" y="2370">wkf_transition</text><text x="1984" y="2394">...</text><text x="1984" y="2418">&lt; 5</text><text class="r" x="2057" y="2418">0 rows</text><text class="r" x="2087" y="2418">2 &gt;</text></g>
<g id="wkf_activity"><rect class="h" x="1650" y="2375" width="112" height="25"/><rect class="w" x="1650" y="2400" width="112" height="48"/><path class="s" d="M1650 2424H1762M1678 2424V2448M1733 2424V2448"/><text class="c" x="1706" y="2393">wkf_activity</text><text x="1654" y="2417">...</text><text x="1654" y="2441">&lt; 5</text><text class="r" x="1728" y="2441">0 rows</text><text class="r" x="1757" y="2441">3 &gt;</text></g>

<g id="ir_model"><rect class="h" x="1267" y="2530" width="136" height="25"/><rect class="w" x="1267" y="2555" width="136" height="240"/><rect class="k" x="1267" y="2555" width="136" height="24"/><rect class="y" x="1267" y="2579" width="136" height="24"/><path class="s" d="M1267 2579H1403M1267 2603H1403M1267 2627H1403M1267 2651H1403M1267 2675H1403M1267 2699H1403M1267 2723H1403M1267 2747H1403M1267 2771H1403M1299 2771V2795M1362 2771V2795"/><text class="c" x="1335" y="2548">ir_model</text><text x="1271" y="2572">id</text><text x="1271" y="2596">model</text><text x="1271" y="2620">name</text><text x="1271" y="2644">state</text><text x="1271" y="2668">info</text><text x="1271" y="2692">create_uid</text><text x="1271" y="2716">create_date</text><text x="1271" y="2740">write_uid</text><text x="1271" y="2764">write_date</text><text x="1271" y="2788">&lt; 2</text><text class="r" x="1357" y="2788">119 rows</text><text class="r" x="1398" y="2788">11 &gt;</text></g>

<g id="ir_model_constraint"><rect x="1911" y="2592" width="251" height="317" fill="none" stroke="#000" stroke-width="3"/><rect class="h" x="1913" y="2594" width="247" height="25"/><rect class="w" x="1913" y="2619" width="247" height="288"/><rect class="k" x="1913" y="2619" width="102" height="24"/><rect class="y" x="1913" y="2691" width="102" height="96"/><path class="s" d="M1913 2643H2160M1913 2667H2160M1913 2691H2160M1913 2715H2160M1913 2739H2160M1913 2763H2160M1913 2787H2160M1913 2811H2160M1913 2835H2160M1913 2859H2160M1913 2883H2160M2015 2619V2883M1945 2883V2907M2014 2883V2907"/><text class="c" x="2036.5" y="2612">ir_model_constraint</text><text x="1917" y="2636">id</text><text x="2019" y="2636">serial[10]</text><text x="1917" y="2660">date_init</text><text x="2019" y="2660">timestamp[29,6]</text><text x="1917" y="2684">date_update</text><text x="2019" y="2684">timestamp[29,6]</text><text x="1917" y="2708">module</text><text x="2019" y="2708">int4[10]</text><text x="1917" y="2732">model</text><text x="2019" y="2732">int4[10]</text><text x="1917" y="2756">type</text><text x="2019" y="2756">varchar[1]</text><text x="1917" y="2780">name</text><text x="2019" y="2780">varchar[2147483647]</text><text x="1917" y="2804">create_date</text><text x="2019" y="2804">timestamp[29,6]</text><text x="1917" y="2828">write_uid</text><text x="2019" y="2828">int4[10]</text><text x="1917" y="2852">write_date</text><text x="2019" y="2852">timestamp[29,6]</text><text x="1917" y="2876">create_uid</text><text x="2019" y="2876">int4[10]</text><text x="1917" y="2900">&lt; 4</text><text class="r" x="2009" y="2900">337 rows</text><text class="r" x="2155" y="2900">0 &gt;</text></g>

<g id="ir_module_module"><rect class="h" x="1639" y="2949" width="133" height="25"/><rect class="w" x="1639" y="2974" width="133" height="696"/><rect class="k" x="1639" y="2974" width="133" height="24"/><rect class="y" x="1639" y="3142" width="133" height="24"/><rect class="y" x="1639" y="3214" width="133" height="24"/><rect class="y" x="1639" y="3286" width="133" height="24"/><path class="s" d="M1639 2998H1772M1639 3022H1772M1639 3046H1772M1639 3070H1772M1639 3094H1772M1639 3118H1772M1639 3142H1772M1639 3166H1772M1639 3190H1772M1639 3214H1772M1639 3238H1772M1639 3262H1772M1639 3286H1772M1639 3310H1772M1639 3334H1772M1639 3358H1772M1639 3382H1772M1639 3406H1772M1639 3430H1772M1639 3454H1772M1639 3478H1772M1639 3502H1772M1639 3526H1772M1639 3550H1772M1639 3574H1772M1639 3598H1772M1639 3622H1772M1639 3646H1772M1672 3646V3670M1742 3646V3670"/><text class="c" x="1705.5" y="2967">ir_module_module</text><text x="1643" y="2991">id</text><text x="1643" y="3015">create_uid</text><text x="1643" y="3039">create_date</text><text x="1643" y="3063">write_date</text><text x="1643" y="3087">write_uid</text><text x="1643" y="3111">website</text><text x="1643" y="3135">summary</text><text x="1643" y="3159">name</text><text x="1643" y="3183">author</text><text x="1643" y="3207">icon</text><text x="1643" y="3231">state</text><text x="1643" y="3255">latest_version</text><text x="1643" y="3279">shortdesc</text><text x="1643" y="3303">category_id</text><text x="1643" y="3327">description</text><text x="1643" y="3351">application</text><text x="1643" y="3375">demo</text><text x="1643" y="3399">web</text><text x="1643" y="3423">license</text><text x="1643" y="3447">sequence</text><text x="1643" y="3471">auto_install</text><text x="1643" y="3495">menus_by_module</text><text x="1643" y="3519">maintainer</text><text x="1643" y="3543">contributors</text><text x="1643" y="3567">views_by_module</text><text x="1643" y="3591">reports_by_module</text><text x="1643" y="3615">url</text><text x="1643" y="3639">published_version</text><text x="1643" y="3663">&lt; 3</text><text class="r" x="1737" y="3663">269 rows</text><text class="r" x="1767" y="3663">4 &gt;</text></g>

<g id="ir_model_relation"><rect class="h" x="1976" y="2941" width="120" height="25"/><rect class="w" x="1976" y="2966" width="120" height="48"/><path class="s" d="M1976 2990H2096M2013 2990V3014M2073 2990V3014"/><text class="c" x="2036" y="2959">ir_model_relation</text><text x="1980" y="2983">...</text><text x="1980" y="3007">&lt; 4</text><text class="r" x="2068" y="3007">23 rows</text></g>
<g id="base_import_tests_models_char"><rect class="h" x="1227" y="3072" width="217" height="25"/><rect class="w" x="1227" y="3097" width="217" height="48"/><path class="s" d="M1227 3121H1444M1316 3121V3145M1399 3121V3145"/><text class="c" x="1335.5" y="3090">base_import_tests_models_char</text><text x="1231" y="3114">...</text><text x="1231" y="3138">&lt; 2</text><text class="r" x="1394" y="3138">0 rows</text></g>
<g id="base_import_tests_models_char_noreadonly"><rect class="h" x="1187" y="3173" width="297" height="25"/><rect class="w" x="1187" y="3198" width="297" height="48"/><path class="s" d="M1187 3222H1484M1315 3222V3246M1416 3222V3246"/><text class="c" x="1335.5" y="3191">base_import_tests_models_char_noreadonly</text><text x="1191" y="3215">...</text><text x="1191" y="3239">&lt; 2</text><text class="r" x="1411" y="3239">0 rows</text></g>
<g id="base_import_tests_models_char_readonly"><rect class="h" x="1195" y="3274" width="280" height="25"/><rect class="w" x="1195" y="3299" width="280" height="48"/><path class="s" d="M1195 3323H1475M1315 3323V3347M1412 3323V3347"/><text class="c" x="1335" y="3292">base_import_tests_models_char_readonly</text><text x="1199" y="3316">...</text><text x="1199" y="3340">&lt; 2</text><text class="r" x="1407" y="3340">0 rows</text></g>
<g id="base_import_tests_models_char_required"><rect class="h" x="1195" y="3376" width="280" height="25"/><rect class="w" x="1195" y="3401" width="280" height="48"/><path class="s" d="M1195 3425H1475M1316 3425V3449M1414 3425V3449"/><text class="c" x="1335" y="3394">base_import_tests_models_char_required</text><text x="1199" y="3418">...</text><text x="1199" y="3442">&lt; 2</text><text class="r" x="1409" y="3442">0 rows</text></g>
<g id="base_import_tests_models_char_states"><rect class="h" x="1204" y="3477" width="263" height="25"/><rect class="w" x="1204" y="3502" width="263" height="48"/><path class="s" d="M1204 3526H1467M1316 3526V3550M1408 3526V3550"/><text class="c" x="1335.5" y="3495">base_import_tests_models_char_states</text><text x="1208" y="3519">...</text><text x="1208" y="3543">&lt; 2</text><text class="r" x="1403" y="3543">0 rows</text></g>
<g id="base_import_tests_models_char_stillreadonly"><rect class="h" x="1186" y="3579" width="300" height="25"/><rect class="w" x="1186" y="3604" width="300" height="48"/><path class="s" d="M1186 3628H1486M1316 3628V3652M1418 3628V3652"/><text class="c" x="1336" y="3597">base_import_tests_models_char_stillreadonly</text><text x="1190" y="3621">...</text><text x="1190" y="3645">&lt; 2</text><text class="r" x="1413" y="3645">0 rows</text></g>
<g id="base_language_export"><rect class="h" x="1258" y="3733" width="156" height="25"/><rect class="w" x="1258" y="3758" width="156" height="48"/><path class="s" d="M1258 3782H1414M1316 3782V3806M1372 3782V3806"/><text class="c" x="1336" y="3751">base_language_export</text><text x="1262" y="3775">...</text><text x="1262" y="3799">&lt; 2</text><text class="r" x="1367" y="3799">0 rows</text><text class="r" x="1409" y="3799">1 &gt;</text></g>
<g id="ir_rule"><rect class="h" x="1646" y="3736" width="121" height="25"/><rect class="w" x="1646" y="3761" width="121" height="48"/><path class="s" d="M1646 3785H1767M1674 3785V3809M1735 3785V3809"/><text class="c" x="1706.5" y="3754">ir_rule</text><text x="1650" y="3778">...</text><text x="1650" y="3802">&lt; 3</text><text class="r" x="1730" y="3802">15 rows</text><text class="r" x="1762" y="3802">1 &gt;</text></g>
<g id="ir_module_module_dependency"><rect class="h" x="1930" y="3753" width="214" height="25"/><rect class="w" x="1930" y="3778" width="214" height="48"/><path class="s" d="M1930 3802H2144M2010 3802V3826M2101 3802V3826"/><text class="c" x="2037" y="3771">ir_module_module_dependency</text><text x="1934" y="3795">...</text><text x="1934" y="3819">&lt; 3</text><text class="r" x="2096" y="3819">582 rows</text></g>
<g id="ir_module_category"><rect class="h" x="1267" y="3835" width="136" height="25"/><rect class="w" x="1267" y="3860" width="136" height="48"/><path class="s" d="M1267 3884H1403M1306 3884V3908M1372 3884V3908"/><text class="c" x="1335" y="3853">ir_module_category</text><text x="1271" y="3877">...</text><text x="1271" y="3901">&lt; 3</text><text class="r" x="1367" y="3901">38 rows</text><text class="r" x="1398" y="3901">3 &gt;</text></g>
<g id="rel_modules_langexport"><rect class="h" x="1955" y="3855" width="163" height="25"/><rect class="w" x="1955" y="3880" width="163" height="48"/><path class="s" d="M1955 3904H2118M2015 3904V3928M2084 3904V3928"/><text class="c" x="2036.5" y="3873">rel_modules_langexport</text><text x="1959" y="3897">...</text><text x="1959" y="3921">&lt; 2</text><text class="r" x="2079" y="3921">0 rows</text></g>
<g id="res_groups"><rect class="h" x="1642" y="3925" width="128" height="25"/><rect class="w" x="1642" y="3950" width="128" height="48"/><path class="s" d="M1642 3974H1770M1672 3974V3998M1731 3974V3998"/><text class="c" x="1706" y="3943">res_groups</text><text x="1646" y="3967">...</text><text x="1646" y="3991">&lt; 3</text><text class="r" x="1726" y="3991">11 rows</text><text class="r" x="1765" y="3991">13 &gt;</text></g>
<g id="base_import_tests_models_m2o_related"><rect class="h" x="1200" y="3989" width="270" height="25"/><rect class="w" x="1200" y="4014" width="270" height="48"/><path class="s" d="M1200 4038H1470M1310 4038V4062M1400 4038V4062"/><text class="c" x="1335" y="4007">base_import_tests_models_m2o_related</text><text x="1204" y="4031">...</text><text x="1204" y="4055">&lt; 2</text><text class="r" x="1395" y="4055">0 rows</text><text class="r" x="1465" y="4055">1 &gt;</text></g>
<g id="base_import_tests_models_m2o"><rect class="h" x="1598" y="4065" width="217" height="25"/><rect class="w" x="1598" y="4090" width="217" height="48"/><path class="s" d="M1598 4114H1815M1687 4114V4138M1769 4114V4138"/><text class="c" x="1706.5" y="4083">base_import_tests_models_m2o</text><text x="1602" y="4107">...</text><text x="1602" y="4131">&lt; 3</text><text class="r" x="1764" y="4131">0 rows</text></g>
<g id="base_import_tests_models_preview"><rect class="h" x="1216" y="4144" width="239" height="25"/><rect class="w" x="1216" y="4169" width="239" height="48"/><path class="s" d="M1216 4193H1455M1316 4193V4217M1401 4193V4217"/><text class="c" x="1335.5" y="4162">base_import_tests_models_preview</text><text x="1220" y="4186">...</text><text x="1220" y="4210">&lt; 2</text><text class="r" x="1396" y="4210">0 rows</text></g>
<g id="base_language_import"><rect class="h" x="1258" y="4246" width="156" height="25"/><rect class="w" x="1258" y="4271" width="156" height="48"/><path class="s" d="M1258 4295H1414M1316 4295V4319M1385 4295V4319"/><text class="c" x="1336" y="4264">base_language_import</text><text x="1262" y="4288">...</text><text x="1262" y="4312">&lt; 2</text><text class="r" x="1380" y="4312">0 rows</text></g>
<g id="base_language_install"><rect class="h" x="1259" y="4347" width="152" height="25"/><rect class="w" x="1259" y="4372" width="152" height="48"/><path class="s" d="M1259 4396H1411M1316 4396V4420M1380 4396V4420"/><text class="c" x="1335" y="4365">base_language_install</text><text x="1263" y="4389">...</text><text x="1263" y="4413">&lt; 2</text><text class="r" x="1375" y="4413">0 rows</text></g>
<g id="base_module_configuration"><rect class="h" x="1242" y="4448" width="186" height="25"/><rect class="w" x="1242" y="4473" width="186" height="48"/><path class="s" d="M1242 4497H1428M1315 4497V4521M1387 4497V4521"/><text class="c" x="1335" y="4466">base_module_configuration</text><text x="1246" y="4490">...</text><text x="1246" y="4514">&lt; 2</text><text class="r" x="1382" y="4514">0 rows</text></g>
<g id="base_module_update"><rect class="h" x="1262" y="4550" width="148" height="25"/><rect class="w" x="1262" y="4575" width="148" height="48"/><path class="s" d="M1262 4599H1410M1316 4599V4623M1380 4599V4623"/><text class="c" x="1336" y="4568">base_module_update</text><text x="1266" y="4592">...</text><text x="1266" y="4616">&lt; 2</text><text class="r" x="1375" y="4616">0 rows</text></g>
<g id="base_module_upgrade"><rect class="h" x="1257" y="4651" width="157" height="25"/><rect class="w" x="1257" y="4676" width="157" height="48"/><path class="s" d="M1257 4700H1414M1315 4700V4724M1383 4700V4724"/><text class="c" x="1335.5" y="4669">base_module_upgrade</text><text x="1261" y="4693">...</text><text x="1261" y="4717">&lt; 2</text><text class="r" x="1378" y="4717">0 rows</text></g>
<g id="base_update_translations"><rect class="h" x="1248" y="4752" width="175" height="25"/><rect class="w" x="1248" y="4777" width="175" height="48"/><path class="s" d="M1248 4801H1423M1316 4801V4825M1387 4801V4825"/><text class="c" x="1335.5" y="4770">base_update_translations</text><text x="1252" y="4794">...</text><text x="1252" y="4818">&lt; 2</text><text class="r" x="1382" y="4818">0 rows</text></g>
<g id="bus_bus"><rect class="h" x="1288" y="4853" width="94" height="25"/><rect class="w" x="1288" y="4878" width="94" height="48"/><path class="s" d="M1288 4902H1382M1318 4902V4926M1362 4902V4926"/><text class="c" x="1335" y="4871">bus_bus</text><text x="1292" y="4895">...</text><text x="1292" y="4919">&lt; 2</text><text class="r" x="1357" y="4919">1 row</text></g>
<g id="base_import_tests_models_m2o_required_related"><rect class="h" x="1170" y="4955" width="330" height="25"/><rect class="w" x="1170" y="4980" width="330" height="48"/><path class="s" d="M1170 5004H1500M1310 5004V5028M1416 5004V5028"/><text class="c" x="1335" y="4973">base_import_tests_models_m2o_required_related</text><text x="1174" y="4997">...</text><text x="1174" y="5021">&lt; 2</text><text class="r" x="1411" y="5021">0 rows</text><text class="r" x="1495" y="5021">1 &gt;</text></g>
<g id="ir_model_access"><rect class="h" x="1978" y="4953" width="117" height="25"/><rect class="w" x="1978" y="4978" width="117" height="48"/><path class="s" d="M1978 5002H2095M2008 5002V5026M2075 5002V5026"/><text class="c" x="2036.5" y="4971">ir_model_access</text><text x="1982" y="4995">...</text><text x="1982" y="5019">&lt; 4</text><text class="r" x="2070" y="5019">142 rows</text></g>
<g id="base_import_tests_models_m2o_required"><rect class="h" x="1567" y="5031" width="279" height="25"/><rect class="w" x="1567" y="5056" width="279" height="48"/><path class="s" d="M1567 5080H1846M1687 5080V5104M1783 5080V5104"/><text class="c" x="1706.5" y="5049">base_import_tests_models_m2o_required</text><text x="1571" y="5073">...</text><text x="1571" y="5097">&lt; 3</text><text class="r" x="1778" y="5097">0 rows</text></g>
<g id="base_import_tests_models_o2m"><rect class="h" x="1227" y="5109" width="217" height="25"/><rect class="w" x="1227" y="5134" width="217" height="48"/><path class="s" d="M1227 5158H1444M1310 5158V5182M1416 5158V5182"/><text class="c" x="1335.5" y="5127">base_import_tests_models_o2m</text><text x="1231" y="5151">...</text><text x="1231" y="5175">&lt; 2</text><text class="r" x="1411" y="5175">0 rows</text><text class="r" x="1439" y="5175">1 &gt;</text></g>
<g id="base_import_tests_models_o2m_child"><rect class="h" x="1579" y="5186" width="255" height="25"/><rect class="w" x="1579" y="5211" width="255" height="48"/><path class="s" d="M1579 5235H1834M1687 5235V5259M1777 5235V5259"/><text class="c" x="1706.5" y="5204">base_import_tests_models_o2m_child</text><text x="1583" y="5228">...</text><text x="1583" y="5252">&lt; 3</text><text class="r" x="1772" y="5252">0 rows</text></g>
<g id="change_password_wizard"><rect class="h" x="1247" y="5264" width="178" height="25"/><rect class="w" x="1247" y="5289" width="178" height="48"/><path class="s" d="M1247 5313H1425M1310 5313V5337M1378 5313V5337"/><text class="c" x="1336" y="5282">change_password_wizard</text><text x="1251" y="5306">...</text><text x="1251" y="5330">&lt; 2</text><text class="r" x="1373" y="5330">0 rows</text><text class="r" x="1420" y="5330">1 &gt;</text></g>
<g id="im_chat_presence"><rect class="h" x="1272" y="5365" width="127" height="25"/><rect class="w" x="1272" y="5390" width="127" height="48"/><path class="s" d="M1272 5414H1399M1319 5414V5438M1372 5414V5438"/><text class="c" x="1335.5" y="5383">im_chat_presence</text><text x="1276" y="5407">...</text><text x="1276" y="5431">&lt; 3</text><text class="r" x="1367" y="5431">1 row</text></g>
<g id="ir_act_client"><rect class="h" x="1286" y="5467" width="100" height="25"/><rect class="w" x="1286" y="5492" width="100" height="48"/><path class="s" d="M1286 5516H1386M1316 5516V5540M1369 5516V5540"/><text class="c" x="1336" y="5485">ir_act_client</text><text x="1290" y="5509">...</text><text x="1290" y="5533">&lt; 2</text><text class="r" x="1364" y="5533">3 rows</text></g>
<g id="ir_act_url"><rect class="h" x="1286" y="5568" width="100" height="25"/><rect class="w" x="1286" y="5593" width="100" height="48"/><path class="s" d="M1286 5617H1386M1316 5617V5641M1369 5617V5641"/><text class="c" x="1336" y="5586">ir_act_url</text><text x="1290" y="5610">...</text><text x="1290" y="5634">&lt; 2</text><text class="r" x="1364" y="5634">0 rows</text></g>
<g id="change_password_user"><rect class="h" x="1624" y="5635" width="163" height="25"/><rect class="w" x="1624" y="5660" width="163" height="48"/><path class="s" d="M1624 5684H1787M1687 5684V5708M1754 5684V5708"/><text class="c" x="1705.5" y="5653">change_password_user</text><text x="1628" y="5677">...</text><text x="1628" y="5701">&lt; 4</text><text class="r" x="1749" y="5701">0 rows</text></g>
<g id="res_groups_users_rel"><rect class="h" x="1962" y="5728" width="154" height="25"/><rect class="w" x="1962" y="5753" width="154" height="48"/><path class="s" d="M1962 5777H2116M2016 5777V5801M2081 5777V5801"/><text class="c" x="2039" y="5746">res_groups_users_rel</text><text x="1966" y="5770">...</text><text x="1966" y="5794">&lt; 2</text><text class="r" x="2076" y="5794">4 rows</text></g>
<g id="im_chat_message"><rect class="h" x="1643" y="5736" width="127" height="25"/><rect class="w" x="1643" y="5761" width="127" height="48"/><path class="s" d="M1643 5785H1770M1687 5785V5809M1745 5785V5809"/><text class="c" x="1706.5" y="5754">im_chat_message</text><text x="1647" y="5778">...</text><text x="1647" y="5802">&lt; 4</text><text class="r" x="1740" y="5802">0 rows</text></g>
<g id="im_chat_session"><rect class="h" x="1278" y="5807" width="116" height="25"/><rect class="w" x="1278" y="5832" width="116" height="48"/><path class="s" d="M1278 5856H1394M1310 5856V5880M1362 5856V5880"/><text class="c" x="1336" y="5825">im_chat_session</text><text x="1282" y="5849">...</text><text x="1282" y="5873">&lt; 2</text><text class="r" x="1357" y="5873">0 rows</text><text class="r" x="1389" y="5873">2 &gt;</text></g>
<g id="im_chat_session_res_users_rel"><rect class="h" x="1600" y="5875" width="211" height="25"/><rect class="w" x="1600" y="5900" width="211" height="48"/><path class="s" d="M1600 5924H1811M1687 5924V5948M1767 5924V5948"/><text class="c" x="1705.5" y="5893">im_chat_session_res_users_rel</text><text x="1604" y="5917">...</text><text x="1604" y="5941">&lt; 4</text><text class="r" x="1762" y="5941">0 rows</text></g>
<g id="ir_actions"><rect class="h" x="1282" y="6029" width="108" height="25"/><rect class="w" x="1282" y="6054" width="108" height="48"/><path class="s" d="M1282 6078H1390M1312 6078V6102M1372 6078V6102"/><text class="c" x="1336" y="6047">ir_actions</text><text x="1286" y="6071">...</text><text x="1286" y="6095">&lt; 2</text><text class="r" x="1367" y="6095">81 rows</text></g>
<g id="ir_actions_todo"><rect class="h" x="1282" y="6131" width="106" height="25"/><rect class="w" x="1282" y="6156" width="106" height="48"/><path class="s" d="M1282 6180H1388M1312 6180V6204M1358 6180V6204"/><text class="c" x="1335" y="6149">ir_actions_todo</text><text x="1286" y="6173">...</text><text x="1286" y="6197">&lt; 2</text><text class="r" x="1353" y="6197">1 row</text><text class="r" x="1383" y="6197">1 &gt;</text></g>
<g id="ir_config_parameter"><rect class="h" x="1266" y="6232" width="138" height="25"/><rect class="w" x="1266" y="6257" width="138" height="48"/><path class="s" d="M1266 6281H1404M1310 6281V6305M1370 6281V6305"/><text class="c" x="1335" y="6250">ir_config_parameter</text><text x="1270" y="6274">...</text><text x="1270" y="6298">&lt; 2</text><text class="r" x="1365" y="6298">3 rows</text><text class="r" x="1399" y="6298">1 &gt;</text></g>
<g id="ir_cron"><rect class="h" x="1288" y="6333" width="94" height="25"/><rect class="w" x="1288" y="6358" width="94" height="48"/><path class="s" d="M1288 6382H1382M1319 6382V6406M1363 6382V6406"/><text class="c" x="1335" y="6351">ir_cron</text><text x="1292" y="6375">...</text><text x="1292" y="6399">&lt; 3</text><text class="r" x="1358" y="6399">1 row</text></g>
<g id="ir_fields_converter"><rect class="h" x="1272" y="6524" width="127" height="25"/><rect class="w" x="1272" y="6549" width="127" height="48"/><path class="s" d="M1272 6573H1399M1316 6573V6597M1374 6573V6597"/><text class="c" x="1335.5" y="6542">ir_fields_converter</text><text x="1276" y="6566">...</text><text x="1276" y="6590">&lt; 2</text><text class="r" x="1369" y="6590">0 rows</text></g>
<g id="ir_filters"><rect class="h" x="1286" y="6625" width="100" height="25"/><rect class="w" x="1286" y="6650" width="100" height="48"/><path class="s" d="M1286 6674H1386M1316 6674V6698M1369 6674V6698"/><text class="c" x="1336" y="6643">ir_filters</text><text x="1290" y="6667">...</text><text x="1290" y="6691">&lt; 3</text><text class="r" x="1364" y="6691">0 rows</text></g>
<g id="ir_logging"><rect class="h" x="1286" y="6727" width="100" height="25"/><rect class="w" x="1286" y="6752" width="100" height="48"/><path class="s" d="M1286 6776H1386M1316 6776V6800M1369 6776V6800"/><text class="c" x="1336" y="6745">ir_logging</text><text x="1290" y="6769">...</text><text x="1290" y="6793">&lt; 1</text><text class="r" x="1364" y="6793">0 rows</text></g>
<g id="ir_mail_server"><rect class="h" x="1286" y="6827" width="100" height="25"/><rect class="w" x="1286" y="6852" width="100" height="48"/><path class="s" d="M1286 6876H1386M1316 6876V6900M1369 6876V6900"/><text class="c" x="1336" y="6845">ir_mail_server</text><text x="1290" y="6869">...</text><text x="1290" y="6893">&lt; 2</text><text class="r" x="1364" y="6893">1 row</text></g>
<g id="ir_sequence_type"><rect class="h" x="1274" y="6929" width="122" height="25"/><rect class="w" x="1274" y="6954" width="122" height="48"/><path class="s" d="M1274 6978H1396M1315 6978V7002M1372 6978V7002"/><text class="c" x="1335" y="6947">ir_sequence_type</text><text x="1278" y="6971">...</text><text x="1278" y="6995">&lt; 2</text><text class="r" x="1367" y="6995">0 rows</text></g>
<g id="ir_model_data"><rect class="h" x="1266" y="7030" width="140" height="25"/><rect class="w" x="1266" y="7055" width="140" height="48"/><path class="s" d="M1266 7079H1406M1296 7079V7103M1374 7079V7103"/><text class="c" x="1336" y="7048">ir_model_data</text><text x="1270" y="7072">...</text><text x="1270" y="7096">&lt; 2</text><text class="r" x="1369" y="7096">2.847 rows</text><text class="r" x="1401" y="7096">1 &gt;</text></g>
<g id="ir_ui_view"><rect class="h" x="1642" y="7107" width="128" height="25"/><rect class="w" x="1642" y="7132" width="128" height="48"/><path class="s" d="M1642 7156H1770M1672 7156V7180M1739 7156V7180"/><text class="c" x="1706" y="7125">ir_ui_view</text><text x="1646" y="7149">...</text><text x="1646" y="7173">&lt; 4</text><text class="r" x="1734" y="7173">200 rows</text><text class="r" x="1765" y="7173">6 &gt;</text></g>
<g id="ir_act_window"><rect class="h" x="1976" y="7107" width="120" height="25"/><rect class="w" x="1976" y="7132" width="120" height="48"/><path class="s" d="M1976 7156H2096M2007 7156V7180M2066 7156V7180"/><text class="c" x="2036" y="7125">ir_act_window</text><text x="1980" y="7149">...</text><text x="1980" y="7173">&lt; 4</text><text class="r" x="2061" y="7173">72 rows</text><text class="r" x="2091" y="7173">2 &gt;</text></g>
<g id="ir_exports"><rect class="h" x="1279" y="7185" width="112" height="25"/><rect class="w" x="1279" y="7210" width="112" height="48"/><path class="s" d="M1279 7234H1391M1310 7234V7258M1363 7234V7258"/><text class="c" x="1335" y="7203">ir_exports</text><text x="1283" y="7227">...</text><text x="1283" y="7251">&lt; 2</text><text class="r" x="1358" y="7251">0 rows</text><text class="r" x="1386" y="7251">1 &gt;</text></g>
<g id="ir_exports_line"><rect class="h" x="1656" y="7238" width="102" height="25"/><rect class="w" x="1656" y="7263" width="102" height="48"/><path class="s" d="M1656 7287H1758M1687 7287V7311M1739 7287V7311"/><text class="c" x="1707" y="7256">ir_exports_line</text><text x="1660" y="7280">...</text><text x="1660" y="7304">&lt; 3</text><text class="r" x="1734" y="7304">0 rows</text></g>
<g id="ir_act_window_view"><rect class="h" x="2227" y="7253" width="139" height="25"/><rect class="w" x="2227" y="7278" width="139" height="48"/><path class="s" d="M2227 7302H2366M2273 7302V7326M2339 7302V7326"/><text class="c" x="2296.5" y="7271">ir_act_window_view</text><text x="2231" y="7295">...</text><text x="2231" y="7319">&lt; 4</text><text class="r" x="2334" y="7319">12 rows</text></g>
<g id="ir_ui_view_custom"><rect class="h" x="1972" y="7373" width="128" height="25"/><rect class="w" x="1972" y="7398" width="128" height="48"/><path class="s" d="M1972 7422H2100M2016 7422V7446M2074 7422V7446"/><text class="c" x="2036" y="7391">ir_ui_view_custom</text><text x="1976" y="7415">...</text><text x="1976" y="7439">&lt; 4</text><text class="r" x="2069" y="7439">0 rows</text></g>
<g id="ir_default"><rect class="h" x="1286" y="7460" width="101" height="25"/><rect class="w" x="1286" y="7485" width="101" height="48"/><path class="s" d="M1286 7509H1387M1316 7509V7533M1368 7509V7533"/><text class="c" x="1336.5" y="7478">ir_default</text><text x="1290" y="7502">...</text><text x="1290" y="7526">&lt; 4</text><text class="r" x="1363" y="7526">0 rows</text></g>
<g id="ir_attachment"><rect class="h" x="1286" y="7561" width="101" height="25"/><rect class="w" x="1286" y="7586" width="101" height="48"/><path class="s" d="M1286 7610H1387M1316 7610V7634M1368 7610V7634"/><text class="c" x="1336.5" y="7579">ir_attachment</text><text x="1290" y="7603">...</text><text x="1290" y="7627">&lt; 3</text><text class="r" x="1363" y="7627">4 rows</text></g>
<g id="ir_sequence"><rect class="h" x="1286" y="7663" width="101" height="25"/><rect class="w" x="1286" y="7688" width="101" height="48"/><path class="s" d="M1286 7712H1387M1316 7712V7736M1368 7712V7736"/><text class="c" x="1336.5" y="7681">ir_sequence</text><text x="1290" y="7705">...</text><text x="1290" y="7729">&lt; 3</text><text class="r" x="1363" y="7729">0 rows</text></g>
<g id="res_company_users_rel"><rect class="h" x="1254" y="7765" width="163" height="25"/><rect class="w" x="1254" y="7790" width="163" height="48"/><path class="s" d="M1254 7814H1417M1315 7814V7838M1383 7814V7838"/><text class="c" x="1335.5" y="7783">res_company_users_rel</text><text x="1258" y="7807">...</text><text x="1258" y="7831">&lt; 2</text><text class="r" x="1378" y="7831">2 rows</text></g>

<g id="res_country"><rect class="h" x="211" y="1140" width="128" height="25"/><rect class="w" x="211" y="1165" width="128" height="48"/><path class="s" d="M211 1189H339M242 1189V1213M310 1189V1213"/><text class="c" x="275" y="1158">res_country</text><text x="215" y="1182">...</text><text x="215" y="1206">&lt; 3</text><text class="r" x="305" y="1206">253 rows</text><text class="r" x="334" y="1206">5 &gt;</text></g>
<g id="res_country_state"><rect class="h" x="407" y="1063" width="123" height="25"/><rect class="w" x="407" y="1088" width="123" height="48"/><path class="s" d="M407 1112H530M438 1112V1136M500 1112V1136"/><text class="c" x="468.5" y="1081">res_country_state</text><text x="411" y="1105">...</text><text x="411" y="1129">&lt; 3</text><text class="r" x="495" y="1129">51 rows</text><text class="r" x="525" y="1129">3 &gt;</text></g>
<g id="res_currency"><rect class="h" x="18" y="3635" width="128" height="25"/><rect class="w" x="18" y="3660" width="128" height="48"/><path class="s" d="M18 3684H146M48 3684V3708M116 3684V3708"/><text class="c" x="82" y="3653">res_currency</text><text x="22" y="3677">...</text><text x="22" y="3701">&lt; 3</text><text class="r" x="111" y="3701">173 rows</text><text class="r" x="141" y="3701">3 &gt;</text></g>
<g id="report_paperformat"><rect class="h" x="596" y="3713" width="135" height="25"/><rect class="w" x="596" y="3738" width="135" height="48"/><path class="s" d="M596 3762H731M638 3762V3786M695 3762V3786"/><text class="c" x="663.5" y="3731">report_paperformat</text><text x="600" y="3755">...</text><text x="600" y="3779">&lt; 2</text><text class="r" x="690" y="3779">2 rows</text><text class="r" x="726" y="3779">2 &gt;</text></g>
<g id="res_partner_title"><rect class="h" x="410" y="3789" width="114" height="25"/><rect class="w" x="410" y="3814" width="114" height="48"/><path class="s" d="M410 3838H524M441 3838V3862M493 3838V3862"/><text class="c" x="467" y="3807">res_partner_title</text><text x="414" y="3831">...</text><text x="414" y="3855">&lt; 2</text><text class="r" x="488" y="3855">8 rows</text><text class="r" x="519" y="3855">1 &gt;</text></g>
<g id="res_partner"><rect class="h" x="607" y="3868" width="112" height="25"/><rect class="w" x="607" y="3893" width="112" height="48"/><path class="s" d="M607 3917H719M638 3917V3941M690 3917V3941"/><text class="c" x="663" y="3886">res_partner</text><text x="611" y="3910">...</text><text x="611" y="3934">&lt; 9</text><text class="r" x="685" y="3934">3 rows</text><text class="r" x="714" y="3934">6 &gt;</text></g>
<g id="res_company"><rect class="h" x="798" y="3936" width="113" height="25"/><rect class="w" x="798" y="3961" width="113" height="48"/><path class="s" d="M798 3985H911M829 3985V4009M874 3985V4009"/><text class="c" x="854.5" y="3954">res_company</text><text x="802" y="3978">...</text><text x="802" y="4002">&lt; 7</text><text class="r" x="869" y="4002">1 row</text><text class="r" x="906" y="4002">13 &gt;</text></g>
<g id="res_font"><rect class="h" x="607" y="4048" width="112" height="25"/><rect class="w" x="607" y="4073" width="112" height="48"/><path class="s" d="M607 4097H719M638 4097V4121M690 4097V4121"/><text class="c" x="663" y="4066">res_font</text><text x="611" y="4090">...</text><text x="611" y="4114">&lt; 2</text><text class="r" x="685" y="4114">3 rows</text><text class="r" x="714" y="4114">1 &gt;</text></g>

<g id="res_users"><rect class="h" x="977" y="3911" width="127" height="25"/><rect class="w" x="977" y="3936" width="127" height="360"/><rect class="k" x="977" y="3936" width="127" height="24"/><rect class="y" x="977" y="3984" width="127" height="24"/><rect class="y" x="977" y="4152" width="127" height="24"/><path class="s" d="M977 3960H1104M977 3984H1104M977 4008H1104M977 4032H1104M977 4056H1104M977 4080H1104M977 4104H1104M977 4128H1104M977 4152H1104M977 4176H1104M977 4200H1104M977 4224H1104M977 4248H1104M977 4272H1104M1007 4272V4296M1058 4272V4296"/><text class="c" x="1040.5" y="3929">res_users</text><text x="981" y="3953">id</text><text x="981" y="3977">active</text><text x="981" y="4001">login</text><text x="981" y="4025">password</text><text x="981" y="4049">company_id</text><text x="981" y="4073">partner_id</text><text x="981" y="4097">create_date</text><text x="981" y="4121">create_uid</text><text x="981" y="4145">write_uid</text><text x="981" y="4169">login_date</text><text x="981" y="4193">write_date</text><text x="981" y="4217">signature</text><text x="981" y="4241">action_id</text><text x="981" y="4265">password_crypt</text><text x="981" y="4289">&lt; 4</text><text class="r" x="1053" y="4289">2 rows</text><text class="r" x="1099" y="4289">197 &gt;</text></g>

<text x="17" y="7876">Generated by SchemaSpy</text>
</svg>
